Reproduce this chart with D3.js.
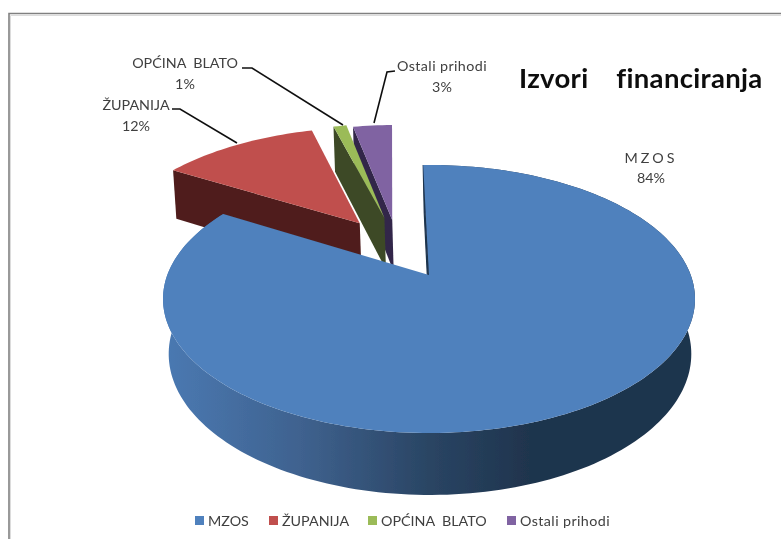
<!DOCTYPE html>
<html><head><meta charset="utf-8">
<script src="https://cdn.jsdelivr.net/npm/d3@7"></script>
<style>html,body{margin:0;padding:0;background:#fff;overflow:hidden}svg{display:block}
text{font-family:Lato,"Open Sans",sans-serif;fill:#404040;white-space:pre}</style>
</head><body>
<script>
const categories = ["MZOS", "ŽUPANIJA", "OPĆINA  BLATO", "Ostali prihodi"];
const values = [84, 12, 1, 3];
const percentLabels = ["84%", "12%", "1%", "3%"];
const titleText = "Izvori    financiranja";
const topColors = ["#4f81bd", "#c0504d", "#9bbb59", "#8064a2"];
const wallColors = ["#1f344d", "#4f1f1e", "#3c4a25", "#33284a"];
const explodeU = [0, -0.285, -0.185, -0.152];
const explodeV = [0, -0.43, -0.477, -0.459];
const drawOrder = [1, 3, 2, 0];

const W = 781, H = 539;
const svg = d3.select("body").append("svg").attr("width", W).attr("height", H);

// perspective disc: top and bottom plane of the pie
const topPlane = {cx: 429, y0: 275, rx: 261.7, ry: 129.7, k: 0.179};
const botPlane = {cx: 430, y0: 330, rx: 257.5, ry: 136.9, k: 0.17};
const project = (p, u, v) => {
  const w = 1 - p.k * v;
  return [p.cx + p.rx * u / w, p.y0 + p.ry * v / w];
};
const rot = -1.5 * Math.PI / 180;
const pie = d3.pie().sort(null).startAngle(rot).endAngle(rot + 2 * Math.PI);
const arcs = pie(values);
const line = d3.line();
const rim = (p, d, i) => {
  const n = Math.max(2, Math.ceil((d.endAngle - d.startAngle) * 40));
  return d3.range(n + 1).map(j => {
    const a = d.startAngle + (d.endAngle - d.startAngle) * j / n;
    return project(p, Math.sin(a) + explodeU[i], -Math.cos(a) + explodeV[i]);
  });
};
const apex = (p, i) => project(p, explodeU[i], explodeV[i]);

const defs = svg.append("defs");
const grad = defs.append("linearGradient").attr("id", "wall")
  .attr("gradientUnits", "userSpaceOnUse").attr("x1", 165).attr("x2", 530).attr("y1", 0).attr("y2", 0);
[[0, "#4a79b2"], [0.37, "#3f628f"], [0.72, "#2a4564"], [1, "#1f344d"]].forEach(s =>
  grad.append("stop").attr("offset", s[0]).attr("stop-color", s[1]));
const soft = defs.append("filter").attr("id", "soft").attr("x", 0).attr("y", 0).attr("width", 1).attr("height", 1);
soft.append("feGaussianBlur").attr("stdDeviation", 0.35);

const root = svg.append("g").attr("filter", "url(#soft)");
root.append("rect").attr("width", W).attr("height", H).attr("fill", "#fff");

// chart area border
const border = root.append("g").attr("fill", "none");
border.append("path").attr("d", "M10.5 539V15.5H781").attr("stroke", "#dcdcdc");
border.append("path").attr("d", "M9 539V13.5H781").attr("stroke", "#808080").attr("stroke-width", 1.6);

const slices = root.append("g");
drawOrder.forEach(i => {
  const d = arcs[i];
  const rimTop = rim(topPlane, d, i);
  const rimBot = rim(botPlane, d, i);
  if (i === 0) {
    slices.append("path").attr("d", line(rimTop.concat(rimBot.slice().reverse())) + "Z").attr("fill", "url(#wall)");
    slices.append("path").attr("d", line([rimTop[0], apex(topPlane, i), apex(botPlane, i), rimBot[0]]) + "Z")
      .attr("fill", wallColors[i]).attr("stroke", wallColors[i]).attr("stroke-width", 1.2);
  } else {
    slices.append("path").attr("d", line([rimTop[0], apex(topPlane, i), apex(botPlane, i), rimBot[0]]) + "Z")
      .attr("fill", wallColors[i]);
  }
  slices.append("path").attr("d", line([apex(topPlane, i)].concat(rimTop)) + "Z").attr("fill", topColors[i]);
});

// leader lines
const leaders = [
  [[172, 109], [180, 109], [237, 143]],
  [[242, 68], [252, 68], [343, 125]],
  [[395, 71], [387, 72], [374, 123]]
];
root.append("g").selectAll("path").data(leaders).join("path")
  .attr("d", line).attr("fill", "none").attr("stroke", "#111").attr("stroke-width", 1.6);

// data labels
const labelPos = [[651, 163, 183], [136, 110, 131], [185, 68, 89], [442, 71, 92]];
const labels = root.append("g").attr("font-size", 14.3).attr("text-anchor", "middle");
categories.forEach((c, i) => {
  const t = labels.append("text").attr("x", labelPos[i][0]).attr("y", labelPos[i][1]).text(c);
  if (i === 0) t.attr("letter-spacing", 3);
  if (i === 3) t.attr("letter-spacing", 0.4);
  labels.append("text").attr("x", labelPos[i][0]).attr("y", labelPos[i][2]).text(percentLabels[i]);
});

// title
root.append("text").attr("x", 519).attr("y", 88).attr("font-size", 27.5).attr("font-weight", 700)
  .attr("letter-spacing", 0.3).style("fill", "#0d0d0d").text(titleText);

// legend
const legendX = [195, 269, 368, 507];
const legend = root.append("g").selectAll("g").data(categories).join("g")
  .attr("transform", (d, i) => `translate(${legendX[i]},516)`);
legend.append("rect").attr("width", 9).attr("height", 9).attr("fill", (d, i) => topColors[i]);
legend.append("text").attr("x", 13).attr("y", 10).attr("font-size", 14.3)
  .attr("letter-spacing", (d, i) => i === 3 ? 0.4 : 0).text(d => d);
</script>
</body></html>
